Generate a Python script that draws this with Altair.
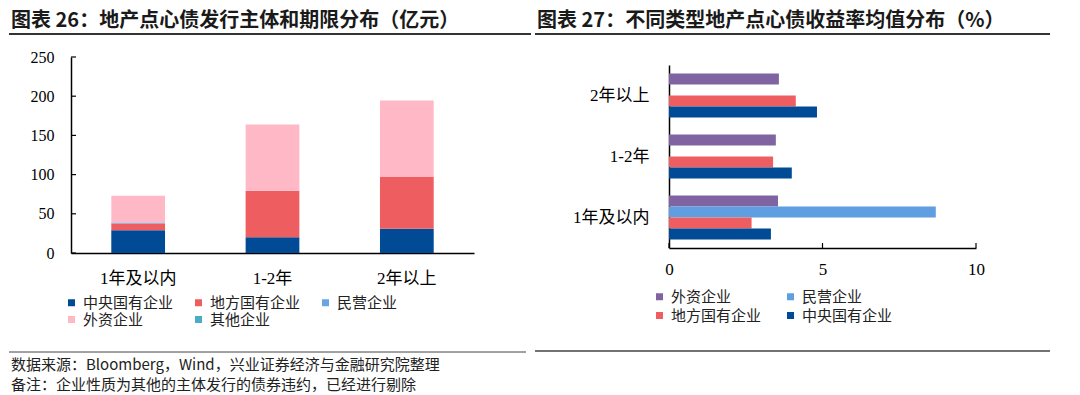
import altair as alt
import pandas as pd

# ---------------- data ----------------
terms = ["1年及以内", "1-2年", "2年以上"]

issuers = ["中央国有企业", "地方国有企业", "民营企业", "外资企业", "其他企业"]
amt_central = [29, 20, 31]
amt_local = [8.5, 59.5, 66]
amt_private = [1.5, 0, 0]
amt_foreign = [34, 84.5, 97.5]
amt_other = [0, 0, 0]
issuer_colors = ["#004A96", "#EE5E60", "#6AA5E3", "#FFB9C6", "#4BACC6"]

yield_types = ["外资企业", "民营企业", "地方国有企业", "中央国有企业"]
yld_foreign = [3.55, 3.48, 3.58]
yld_private = [8.69, None, None]
yld_local = [2.69, 3.39, 4.13]
yld_central = [3.32, 4.00, 4.82]
yield_colors = ["#8064A2", "#5F9EE0", "#EE5E60", "#004A96"]

y_ticks_left = [0, 50, 100, 150, 200, 250]
x_ticks_right = [0, 5, 10]

title_left = "图表 26：地产点心债发行主体和期限分布（亿元）"
title_right = "图表 27：不同类型地产点心债收益率均值分布（%）"
source_note = "数据来源：Bloomberg，Wind，兴业证券经济与金融研究院整理"
remark_note = "备注：企业性质为其他的主体发行的债券违约，已经进行剔除"

# ---------------- tables ----------------
amounts = {
    "中央国有企业": amt_central,
    "地方国有企业": amt_local,
    "民营企业": amt_private,
    "外资企业": amt_foreign,
    "其他企业": amt_other,
}
df_amt = pd.DataFrame(
    [
        {"term": t, "issuer": k, "ord": i, "amount": v}
        for i, k in enumerate(issuers)
        for t, v in zip(terms, amounts[k])
    ]
)

yields = {
    "外资企业": yld_foreign,
    "民营企业": yld_private,
    "地方国有企业": yld_local,
    "中央国有企业": yld_central,
}
df_yld = pd.DataFrame(
    [
        {"term": t, "type": k, "yld": v}
        for k in yield_types
        for t, v in zip(terms, yields[k])
        if v is not None
    ]
)

serif = "Liberation Serif, Noto Sans CJK SC"
sans = "Noto Sans CJK SC"
one = alt.Data(values=[{}])

# ---------------- left panel ----------------
LW, LH = 403, 196

y_scale_l = alt.Scale(domain=[0, 250], nice=False)
y_axis_l = alt.Axis(title=None, values=y_ticks_left, ticks=False, grid=False,
                    labelPadding=17, labelFont=serif, labelFontSize=16)

bars_left = alt.Chart(df_amt).mark_bar().encode(
    x=alt.X(
        "term:N",
        sort=terms,
        scale=alt.Scale(paddingInner=0.6, paddingOuter=0.3),
        axis=alt.Axis(title=None, labelAngle=0, ticks=False, labelPadding=17,
                      labelFont=serif, labelFontSize=17),
    ),
    y=alt.Y("amount:Q", stack="zero", scale=y_scale_l, axis=y_axis_l),
    color=alt.Color(
        "issuer:N",
        scale=alt.Scale(domain=issuers, range=issuer_colors),
        legend=alt.Legend(title=None, orient="none", legendX=-7, legendY=238,
                          direction="horizontal", columns=3,
                          symbolType="square", symbolSize=49,
                          symbolStrokeWidth=0, symbolOpacity=1,
                          labelFont=sans, labelFontSize=15, labelColor="#222",
                          columnPadding=17, rowPadding=1, labelOffset=4),
    ),
    order=alt.Order("ord:Q"),
)

ticks_left = alt.Chart(pd.DataFrame({"amount": y_ticks_left})).mark_rule(
    color="#000", strokeWidth=1.2
).encode(y=alt.Y("amount:Q", scale=y_scale_l, axis=y_axis_l),
         x=alt.value(0), x2=alt.value(5))

title_l = alt.Chart(one).mark_text(
    text=title_left, align="left", baseline="middle", font=sans,
    fontSize=20, fontWeight="bold", color="#1a1a1a"
).encode(x=alt.value(-60), y=alt.value(-36))

rule_top_l = alt.Chart(one).mark_rule(color="#333", strokeWidth=2).encode(
    x=alt.value(-62), x2=alt.value(460), y=alt.value(-23)
)
rule_bot_l = alt.Chart(one).mark_rule(color="#444", strokeWidth=1).encode(
    x=alt.value(-62), x2=alt.value(455), y=alt.value(295)
)
src_l = alt.Chart(one).mark_text(
    text=source_note, align="left", baseline="middle", font=sans,
    fontSize=15, color="#222"
).encode(x=alt.value(-60), y=alt.value(308))
rem_l = alt.Chart(one).mark_text(
    text=remark_note, align="left", baseline="middle", font=sans,
    fontSize=15, color="#222"
).encode(x=alt.value(-60), y=alt.value(328))

left = alt.layer(
    bars_left, ticks_left, title_l, rule_top_l, rule_bot_l, src_l, rem_l
).properties(width=LW, height=LH)

# ---------------- right panel ----------------
RW, RH = 307, 191

x_scale_r = alt.Scale(domain=[0, 10], nice=False)
x_axis_r = alt.Axis(title=None, values=x_ticks_right, ticks=False, grid=False,
                    labelFlush=False, labelPadding=13, labelFont=serif,
                    labelFontSize=17)

bars_right = alt.Chart(df_yld).mark_bar().encode(
    y=alt.Y(
        "term:N",
        sort=terms[::-1],
        scale=alt.Scale(range=[8, 191], paddingInner=0.28, paddingOuter=0.14),
        axis=alt.Axis(title=None, ticks=False, labelPadding=20,
                      labelFont=serif, labelFontSize=17),
    ),
    yOffset=alt.YOffset(
        "type:N", sort=yield_types,
        scale=alt.Scale(domain=yield_types, paddingInner=0),
    ),
    x=alt.X("yld:Q", scale=x_scale_r, axis=x_axis_r),
    color=alt.Color(
        "type:N",
        scale=alt.Scale(domain=yield_types, range=yield_colors),
        legend=alt.Legend(title=None, orient="none", legendX=-17, legendY=232,
                          direction="horizontal", columns=2,
                          symbolType="square", symbolSize=49,
                          symbolStrokeWidth=0, symbolOpacity=1,
                          labelFont=sans, labelFontSize=15, labelColor="#222",
                          columnPadding=21, rowPadding=3, labelOffset=4),
    ),
)

ticks_right = alt.Chart(pd.DataFrame({"yld": x_ticks_right})).mark_rule(
    color="#000", strokeWidth=1.2
).encode(x=alt.X("yld:Q", scale=x_scale_r, axis=x_axis_r),
         y=alt.value(186), y2=alt.value(191))

title_r = alt.Chart(one).mark_text(
    text=title_right, align="left", baseline="middle", font=sans,
    fontSize=20, fontWeight="bold", color="#1a1a1a"
).encode(x=alt.value(-132), y=alt.value(-36))

rule_top_r = alt.Chart(one).mark_rule(color="#333", strokeWidth=2).encode(
    x=alt.value(-134), x2=alt.value(381), y=alt.value(-23)
)
rule_bot_r = alt.Chart(one).mark_rule(color="#444", strokeWidth=1.5).encode(
    x=alt.value(-134), x2=alt.value(381), y=alt.value(294)
)

right = alt.layer(
    bars_right, ticks_right, title_r, rule_top_r, rule_bot_r
).properties(width=RW, height=RH)

chart = (
    alt.hconcat(left, right, spacing=2)
    .resolve_scale(color="independent", x="independent", y="independent")
    .properties(padding={"left": 0, "top": 3, "right": 0, "bottom": 0})
    .configure_view(stroke=None)
    .configure_axis(domainColor="#000", domainWidth=1.5, labelColor="#000")
)

chart.save("out.html", embed_options={"renderer": "svg", "actions": False})
